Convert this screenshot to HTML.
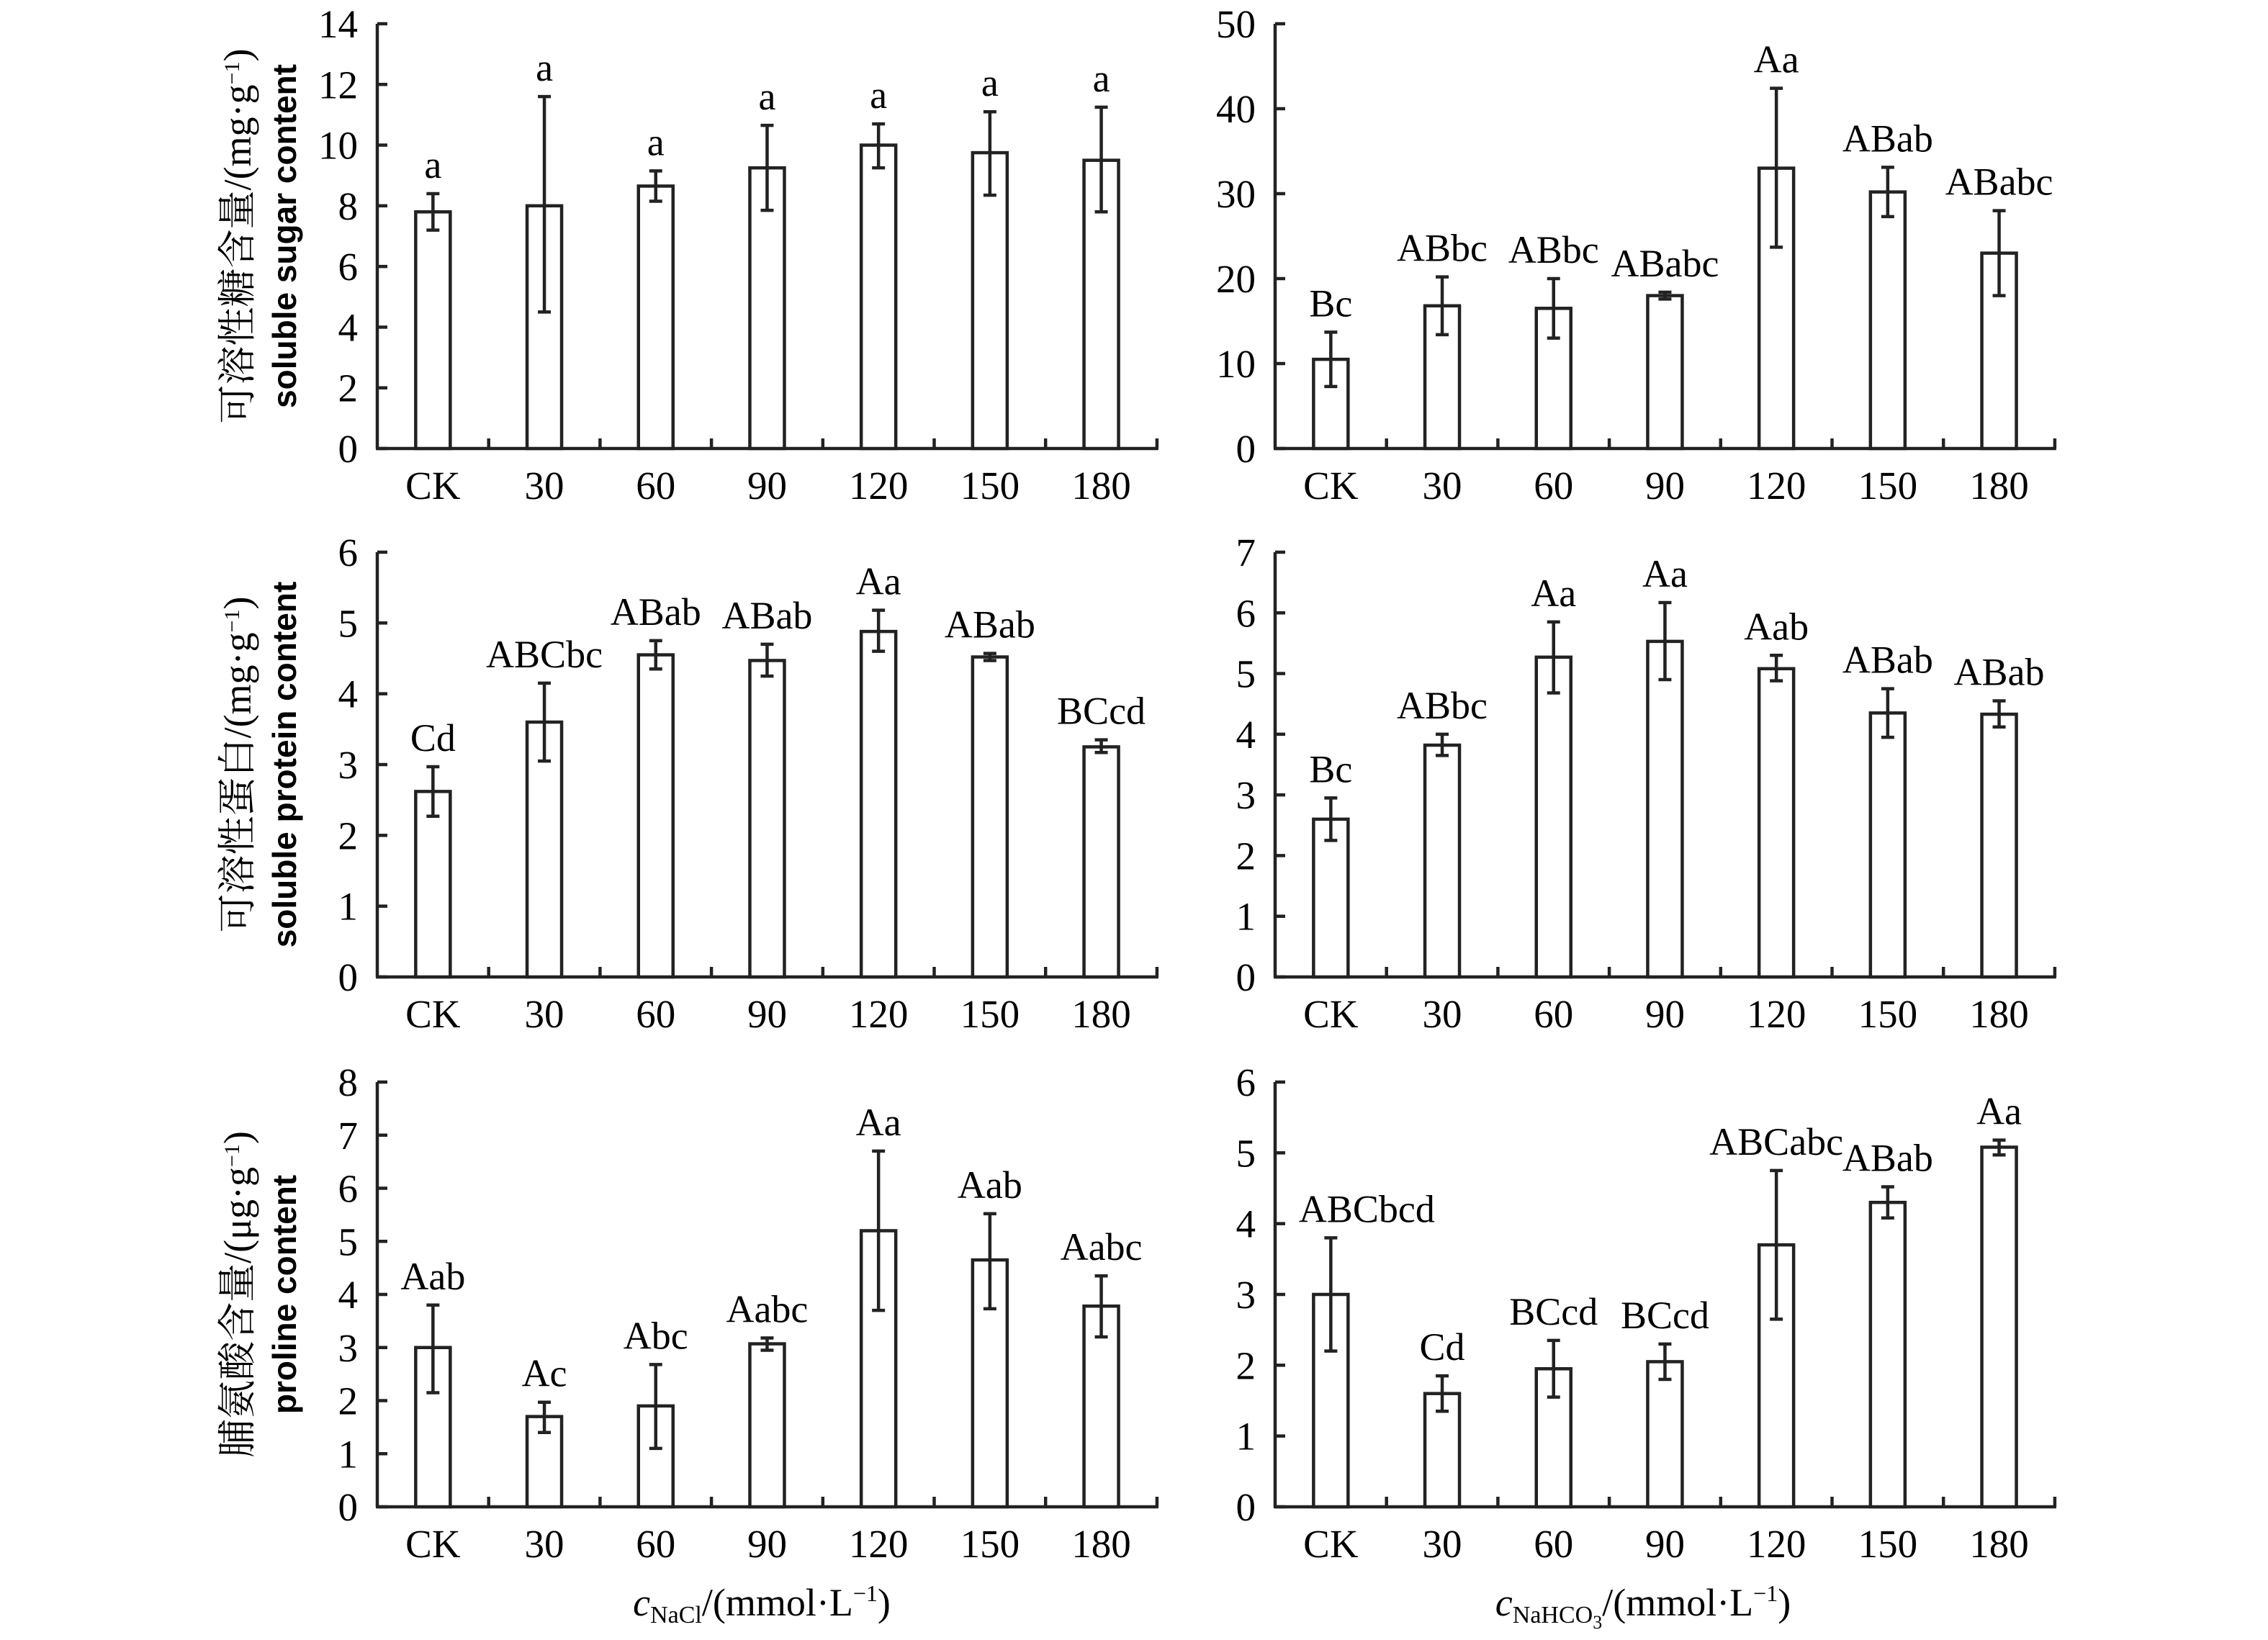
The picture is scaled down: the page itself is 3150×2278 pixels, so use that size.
<!DOCTYPE html>
<html><head><meta charset="utf-8"><style>
html,body{margin:0;padding:0;background:#fff;}
svg{display:block;}
text{font-family:"Liberation Serif","Noto Serif CJK SC",serif;fill:#000;}
.en{font-family:"Liberation Sans",sans-serif;font-weight:bold;}
</style></head><body>
<svg id="s" width="3150" height="2278" viewBox="0 0 3150 2278" xmlns="http://www.w3.org/2000/svg"></svg>
<script>
const svg=document.getElementById('s');
let h='';
const L=524,R=1771;
const panels=[
 {ax:L,y0:623,yt:33,max:14,step:2,
  d:[[7.8,7.2,8.4,'a'],[8.0,4.5,11.6,'a'],[8.65,8.15,9.15,'a'],[9.25,7.85,10.65,'a'],[10.0,9.25,10.7,'a'],[9.75,8.35,11.1,'a'],[9.5,7.8,11.25,'a']]},
 {ax:R,y0:623,yt:33,max:50,step:10,
  d:[[10.5,7.3,13.7,'Bc'],[16.8,13.4,20.2,'ABbc'],[16.5,13,20,'ABbc'],[18,17.6,18.4,'ABabc'],[33,23.7,42.4,'Aa'],[30.2,27.3,33.1,'ABab'],[23,18,28,'ABabc']]},
 {ax:L,y0:1357,yt:767,max:6,step:1,
  d:[[2.62,2.27,2.97,'Cd'],[3.6,3.05,4.15,'ABCbc'],[4.55,4.35,4.75,'ABab'],[4.47,4.25,4.7,'ABab'],[4.88,4.6,5.18,'Aa'],[4.52,4.47,4.57,'ABab'],[3.25,3.17,3.35,'BCcd']]},
 {ax:R,y0:1357,yt:767,max:7,step:1,
  d:[[2.6,2.25,2.95,'Bc'],[3.82,3.65,4.0,'ABbc'],[5.27,4.68,5.85,'Aa'],[5.53,4.9,6.17,'Aa'],[5.08,4.88,5.3,'Aab'],[4.35,3.95,4.75,'ABab'],[4.33,4.12,4.55,'ABab']]},
 {ax:L,y0:2093,yt:1503,max:8,step:1,
  d:[[3.0,2.15,3.8,'Aab'],[1.7,1.4,1.97,'Ac'],[1.9,1.1,2.68,'Abc'],[3.07,2.95,3.18,'Aabc'],[5.2,3.7,6.7,'Aa'],[4.65,3.73,5.52,'Aab'],[3.78,3.2,4.35,'Aabc']]},
 {ax:R,y0:2093,yt:1503,max:6,step:1,
  d:[[3.0,2.2,3.8,'ABCbcd',50],[1.6,1.35,1.85,'Cd'],[1.95,1.55,2.35,'BCcd'],[2.05,1.8,2.3,'BCcd'],[3.7,2.65,4.75,'ABCabc'],[4.3,4.08,4.52,'ABab'],[5.08,4.97,5.18,'Aa']]}
];
const cats=['CK','30','60','90','120','150','180'];
const sp=154.7, SW=4.5;
panels.forEach(p=>{
 const ax=p.ax,y0=p.y0,yt=p.yt,xe=ax+7*sp;
 const Y=v=>y0-(v/p.max)*(y0-yt);
 h+=`<line x1="${ax}" y1="${yt}" x2="${ax}" y2="${y0}" stroke="#222" stroke-width="${SW}"/>`;
 h+=`<line x1="${ax-2}" y1="${y0}" x2="${xe+2}" y2="${y0}" stroke="#222" stroke-width="${SW}"/>`;
 for(let v=0;v<=p.max+1e-9;v+=p.step){
  const y=Y(v);
  h+=`<line x1="${ax}" y1="${y}" x2="${ax+14}" y2="${y}" stroke="#222" stroke-width="${SW}"/>`;
  h+=`<text x="${ax-27}" y="${y+19}" font-size="55" text-anchor="end">${v}</text>`;
 }
 for(let i=1;i<=7;i++){
  const x=ax+i*sp;
  h+=`<line x1="${x}" y1="${y0-14}" x2="${x}" y2="${y0}" stroke="#222" stroke-width="${SW}"/>`;
 }
 p.d.forEach((d,i)=>{
  const cx=ax+sp/2+i*sp, bw=48;
  h+=`<rect x="${cx-bw/2}" y="${Y(d[0])}" width="${bw}" height="${y0-Y(d[0])}" fill="#fff" stroke="#222" stroke-width="${SW}"/>`;
  h+=`<line x1="${cx}" y1="${Y(d[1])}" x2="${cx}" y2="${Y(d[2])}" stroke="#222" stroke-width="${SW}"/>`;
  h+=`<line x1="${cx-9}" y1="${Y(d[1])}" x2="${cx+9}" y2="${Y(d[1])}" stroke="#222" stroke-width="${SW}"/>`;
  h+=`<line x1="${cx-9}" y1="${Y(d[2])}" x2="${cx+9}" y2="${Y(d[2])}" stroke="#222" stroke-width="${SW}"/>`;
  h+=`<text x="${cx+(d[4]||0)}" y="${Y(d[2])-22}" font-size="54" text-anchor="middle">${d[3]}</text>`;
  h+=`<text x="${cx}" y="${y0+70}" font-size="55" text-anchor="middle">${cats[i]}</text>`;
 });
});
const yt=[[328,'可溶性糖含量/(mg·g<tspan baseline-shift="super" font-size="30">−1</tspan>)','soluble sugar content'],
 [1062,'可溶性蛋白/(mg·g<tspan baseline-shift="super" font-size="30">−1</tspan>)','soluble protein content'],
 [1798,'脯氨酸含量/(μg·g<tspan baseline-shift="super" font-size="30">−1</tspan>)','proline content']];
yt.forEach(t=>{
 const cy=t[0];
 h+=`<text transform="translate(348,${cy}) rotate(-90)" font-size="54" text-anchor="middle">${t[1]}</text>`;
 h+=`<text class="en" transform="translate(411,${cy}) rotate(-90)" font-size="46" text-anchor="middle">${t[2]}</text>`;
});
h+=`<text x="1058" y="2244" font-size="54" text-anchor="middle"><tspan font-style="italic">c</tspan><tspan font-size="34" dy="10">NaCl</tspan><tspan dy="-10">/(mmol·L</tspan><tspan font-size="32" dy="-20">−1</tspan><tspan dy="20">)</tspan></text>`;
h+=`<text x="2282" y="2244" font-size="54" text-anchor="middle"><tspan font-style="italic">c</tspan><tspan font-size="34" dy="10">NaHCO</tspan><tspan font-size="26" dy="8">3</tspan><tspan dy="-18">/(mmol·L</tspan><tspan font-size="32" dy="-20">−1</tspan><tspan dy="20">)</tspan></text>`;
svg.innerHTML=h;
</script>
</body></html>
